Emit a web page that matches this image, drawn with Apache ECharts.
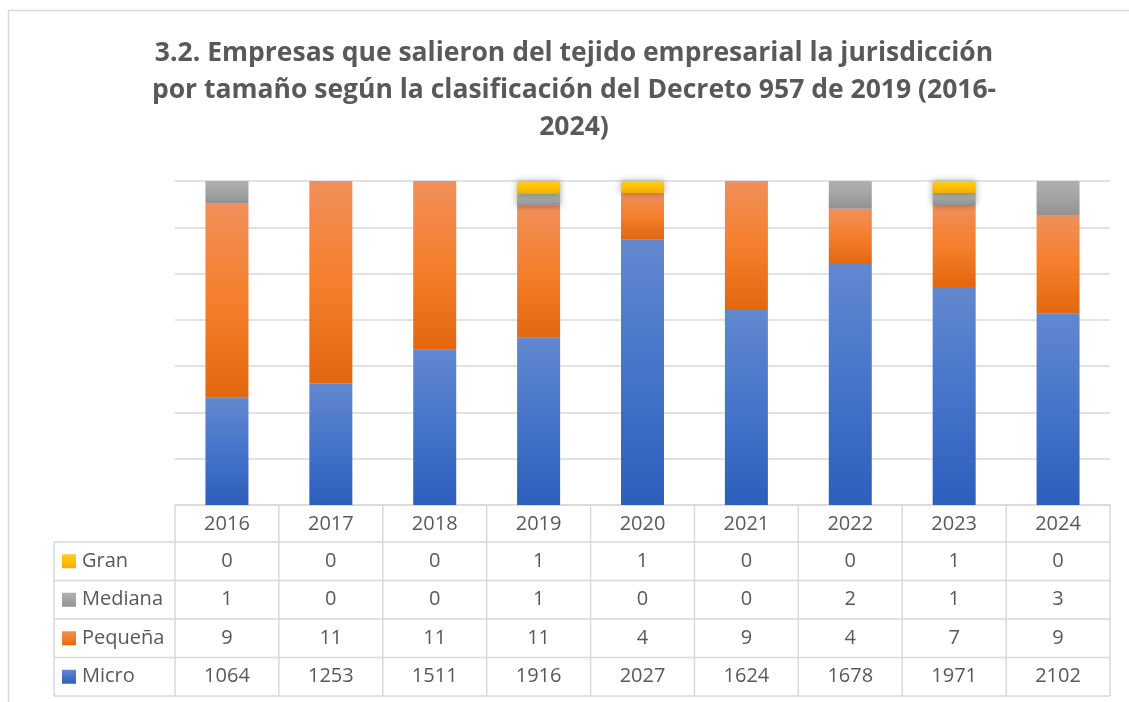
<!DOCTYPE html>
<html>
<head>
<meta charset="utf-8">
<script src="https://cdn.jsdelivr.net/npm/echarts@6/dist/echarts.min.js"></script>
<style>
  html, body { margin: 0; padding: 0; background: #fff; }
  #main { width: 1129px; height: 702px; }
</style>
</head>
<body>
<div id="main"></div>
<script>
// años (categorías)
var years = ['2016', '2017', '2018', '2019', '2020', '2021', '2022', '2023', '2024'];

// valores de la tabla de datos
var gran = [0, 0, 0, 1, 1, 0, 0, 1, 0];
var mediana = [1, 0, 0, 1, 0, 0, 2, 1, 3];
var pequena = [9, 11, 11, 11, 4, 9, 4, 7, 9];
var micro = [1064, 1253, 1511, 1916, 2027, 1624, 1678, 1971, 2102];

// altura de cada tramo de la barra (% de la columna)
var microPct = [33.1, 37.4, 48.1, 51.6, 82.0, 60.2, 74.4, 67.3, 59.2];
var pequenaPct = [60.1, 62.6, 51.9, 40.7, 14.3, 39.8, 17.0, 25.3, 30.3];
var medianaPct = [6.8, 0, 0, 3.7, 0, 0, 8.6, 3.7, 10.5];
var granPct = [0, 0, 0, 3.9, 3.7, 0, 0, 3.7, 0];

var titleLines = [
    '3.2. Empresas que salieron del tejido empresarial la jurisdicción',
    'por tamaño según la clasificación del Decreto 957 de 2019 (2016-',
    '2024)'
];

var FONT = '"Open Sans", "Noto Sans", sans-serif';
var TXT = '#595959';
var LINE = '#D9D9D9';

function grad(a, b, c) {
    return new echarts.graphic.LinearGradient(0, 0, 0, 1, [
        {offset: 0, color: a},
        {offset: 0.5, color: b},
        {offset: 1, color: c}
    ]);
}

var colMicro = grad('#6288CF', '#4674CA', '#2C5EBC');
var colPeq = grad('#F18F5A', '#F47F2C', '#E3670F');
var colMed = grad('#B0B0B0', '#A3A3A3', '#929292');
var colGran = grad('#FFCB2A', '#FFC000', '#ECB000');

var myChart = echarts.init(document.getElementById('main'));

function serie(name, data, color) {
    return {
        name: name,
        type: 'bar',
        stack: 'total',
        barWidth: 43,
        data: data,
        itemStyle: {
            color: color,
            shadowBlur: 7,
            shadowColor: 'rgba(0,0,0,0.35)'
        },
        emphasis: {disabled: true}
    };
}

var option = {
    animation: false,
    grid: {left: 175, right: 19, top: 181, bottom: 197},
    xAxis: {
        type: 'category',
        data: years,
        axisLine: {show: true, lineStyle: {color: LINE, width: 1.5}},
        axisTick: {show: false},
        axisLabel: {
            margin: 9,
            fontFamily: FONT,
            fontSize: 20,
            lineHeight: 20,
            color: TXT
        }
    },
    yAxis: {
        type: 'value',
        min: 0,
        max: 100,
        interval: 100 / 7,
        axisLabel: {show: false},
        axisLine: {show: false},
        splitLine: {lineStyle: {color: LINE, width: 1.5}}
    },
    series: [
        serie('Micro', microPct, colMicro),
        serie('Pequeña', pequenaPct, colPeq),
        serie('Mediana', medianaPct, colMed),
        serie('Gran', granPct, colGran)
    ]
};
myChart.setOption(option);

// tabla de datos bajo el eje
var x0 = myChart.convertToPixel({xAxisIndex: 0}, years[0]);
var x1 = myChart.convertToPixel({xAxisIndex: 0}, years[1]);
var band = x1 - x0;
var left = x0 - band / 2;
var right = left + band * years.length;
var axisY = 505, headBottom = 542, rowH = 38.5, legendX = 54;
var rows = [
    {name: 'Gran', vals: gran, color: colGran},
    {name: 'Mediana', vals: mediana, color: colMed},
    {name: 'Pequeña', vals: pequena, color: colPeq},
    {name: 'Micro', vals: micro, color: colMicro}
];
var tableBottom = headBottom + rowH * rows.length;

var g = [];
function line(xa, ya, xb, yb) {
    g.push({type: 'line', silent: true,
        shape: {x1: xa, y1: ya, x2: xb, y2: yb},
        style: {stroke: LINE, lineWidth: 1.5}});
}

// líneas verticales
for (var i = 0; i <= years.length; i++) {
    line(left + band * i, axisY, left + band * i, tableBottom);
}
line(legendX, headBottom, legendX, tableBottom);
// líneas horizontales
for (var r = 0; r <= rows.length; r++) {
    line(legendX, headBottom + rowH * r, right, headBottom + rowH * r);
}

rows.forEach(function (row, r) {
    var cy = headBottom + rowH * r + rowH / 2;
    g.push({type: 'rect', silent: true,
        shape: {x: 62, y: cy - 7, width: 14, height: 14},
        style: {fill: row.color}});
    g.push({type: 'text', silent: true, x: 82, y: cy,
        style: {text: row.name, fontFamily: FONT, fontSize: 20, fill: TXT,
            textAlign: 'left', textVerticalAlign: 'middle'}});
    row.vals.forEach(function (v, i) {
        g.push({type: 'text', silent: true,
            x: myChart.convertToPixel({xAxisIndex: 0}, years[i]), y: cy,
            style: {text: String(v), fontFamily: FONT, fontSize: 20, fill: TXT,
                textAlign: 'center', textVerticalAlign: 'middle'}});
    });
});

// título
titleLines.forEach(function (t, k) {
    g.push({type: 'text', silent: true, x: 574, y: 53 + k * 37,
        style: {text: t, fontFamily: FONT, fontWeight: 'bold', fontSize: 26.5,
            fill: TXT, textAlign: 'center', textVerticalAlign: 'middle'}});
});

// marco del gráfico
line(8.5, 10.5, 8.5, 702);
line(8.5, 10.5, 1129, 10.5);

myChart.setOption({graphic: g});
</script>
</body>
</html>
